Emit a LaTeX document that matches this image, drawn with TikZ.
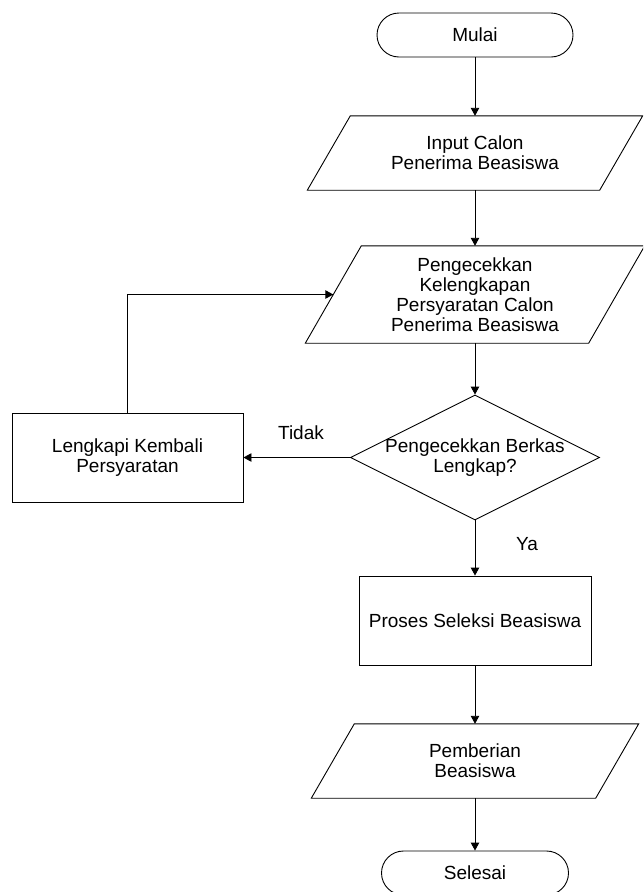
\documentclass[tikz,border=0pt]{standalone}
\usepackage{fontspec}
\setmainfont{Liberation Sans}
\usetikzlibrary{arrows.meta,shapes.geometric}
\begin{document}
\begin{tikzpicture}[x=1pt,y=-1pt,
  every node/.style={font=\fontsize{19}{20}\selectfont, align=center, inner sep=0pt},
  terminal/.style={draw, rectangle, rounded corners=22pt, minimum height=44pt, line width=0.9pt},
  procbox/.style={draw, rectangle, minimum width=231pt, minimum height=89pt, line width=0.9pt},
  iobox/.style={rectangle, minimum height=#1},
  decision/.style={draw, diamond, minimum width=249pt, minimum height=125pt, aspect=2, line width=0.9pt},
  lbl/.style={font=\fontsize{19}{20}\selectfont},
  conn/.style={line width=0.9pt, -{Triangle[length=8pt,width=8.5pt]}},
  pline/.style={line width=0.9pt, line join=miter}
]
\useasboundingbox (0,0) rectangle (643,892);
\clip (0,0) rectangle (643,892);

% terminals
\node[terminal, minimum width=196pt] (mulai) at (475,35) {Mulai};
\node[terminal, minimum width=187pt] (selesai) at (475,873) {Selesai};

% input/output parallelograms (text nodes + outlines)
\node[iobox=74pt, minimum width=292pt] (p1) at (475,153) {Input Calon\\Penerima Beasiswa};
\draw[pline] ([xshift=21.5pt]p1.north west) -- ([xshift=21.5pt]p1.north east)
  -- ([xshift=-21.5pt]p1.south east) -- ([xshift=-21.5pt]p1.south west) -- cycle;

\node[iobox=97pt, minimum width=283pt] (p2) at (475,294.5) {Pengecekkan\\Kelengkapan\\Persyaratan Calon\\Penerima Beasiswa};
\draw[pline] ([xshift=28pt]p2.north west) -- ([xshift=28pt]p2.north east)
  -- ([xshift=-28pt]p2.south east) -- ([xshift=-28pt]p2.south west) -- cycle;
\coordinate (p2in) at (p2.west);

\node[iobox=74pt, minimum width=284pt] (p3) at (475,761) {Pemberian\\Beasiswa};
\draw[pline] ([xshift=21.5pt]p3.north west) -- ([xshift=21.5pt]p3.north east)
  -- ([xshift=-21.5pt]p3.south east) -- ([xshift=-21.5pt]p3.south west) -- cycle;

% decision
\node[decision] (dec) at (475,457.5) {};
\node (dectext) at (475,457.5) {Pengecekkan Berkas\\Lengkap?};

% process boxes
\node[procbox] (lengkapi) at (127.5,457.5) {Lengkapi Kembali\\Persyaratan};
\node[procbox, minimum width=232pt] (proses) at (475,620.5) {Proses Seleksi Beasiswa};

% connectors
\draw[conn] (mulai.south) -- (p1.north);
\draw[conn] (p1.south) -- (p2.north);
\draw[conn] (p2.south) -- (dec.north);
\draw[conn] (dec.west) -- (lengkapi.east);
\draw[conn] (lengkapi.north) |- (p2in);
\draw[conn] (dec.south) -- (proses.north);
\draw[conn] (proses.south) -- (p3.north);
\draw[conn] (p3.south) -- (selesai.north);

% labels
\node[lbl] (tidak) at (301,433) {Tidak};
\node[lbl] (ya) at (527,544) {Ya};
\end{tikzpicture}
\end{document}
